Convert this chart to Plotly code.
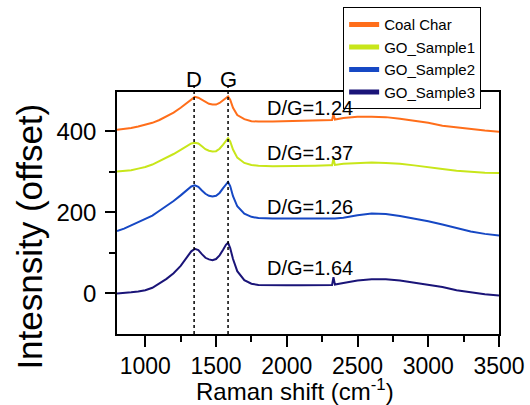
import plotly.graph_objects as go

raman_shift = [800, 850, 900, 950, 1000, 1050, 1100, 1150, 1200, 1250, 1300, 1325, 1350, 1375,
               1400, 1425, 1450, 1475, 1500, 1525, 1550, 1570, 1585, 1600, 1620, 1650, 1700,
               1750, 1800, 1900, 2000, 2100, 2200, 2300, 2320, 2330, 2340, 2400, 2500, 2600,
               2700, 2800, 2900, 3000, 3100, 3200, 3300, 3400, 3500]

coal_char = [404, 406, 408, 412, 416, 421, 428, 436, 446, 458, 472, 480, 485, 483,
             478, 472, 468, 466, 466, 470, 476, 482, 486, 478, 458, 440, 430,
             425, 424, 424, 425, 426, 427, 428, 428, 442, 429, 433, 436, 436,
             435, 431, 426, 421, 414, 410, 405, 402, 399]

go_sample1 = [301, 302, 304, 308, 312, 318, 326, 334, 344, 354, 365, 370, 372, 370,
              363, 356, 352, 350, 351, 357, 367, 378, 383, 375, 355, 335, 322,
              317, 315, 314, 314, 315, 315, 316, 316, 333, 317, 320, 322, 323,
              322, 320, 316, 311, 307, 303, 300, 298, 297]

go_sample2 = [154, 160, 168, 176, 183, 192, 204, 215, 228, 242, 257, 264, 267, 263,
              254, 246, 241, 239, 241, 248, 260, 270, 275, 265, 240, 215, 197,
              189, 186, 185, 185, 185, 185, 185, 185, 186, 185, 187, 193, 197,
              196, 191, 185, 178, 170, 161, 153, 147, 143]

go_sample3 = [0, 1, 3, 5, 8, 14, 24, 36, 50, 68, 92, 104, 110, 107,
              97, 88, 84, 82, 85, 94, 108, 120, 125, 112, 85, 55, 33,
              24, 21, 20, 20, 20, 20, 21, 21, 40, 22, 26, 32, 35,
              35, 32, 27, 22, 16, 8, 3, -2, -5]

series_names = ["Coal Char", "GO_Sample1", "GO_Sample2", "GO_Sample3"]
series_values = [coal_char, go_sample1, go_sample2, go_sample3]
series_colors = ["#FF6E1A", "#C8E61A", "#1648C4", "#1A1478"]

ratio_labels = ["D/G=1.24", "D/G=1.37", "D/G=1.26", "D/G=1.64"]
ratio_y = [457, 346, 213, 62]
ratio_x = 2163

peak_x = [1345, 1585]
peak_labels = ["D", "G"]

FONT = "Liberation Sans, Arial, sans-serif"

fig = go.Figure()
for name, vals, col in zip(series_names, series_values, series_colors):
    fig.add_trace(go.Scatter(x=raman_shift, y=vals, mode="lines", name=name,
                             line=dict(color=col, width=2), showlegend=False))
# legend-only entries with thick lines
for name, col in zip(series_names, series_colors):
    fig.add_trace(go.Scatter(x=[None], y=[None], mode="lines", name=name,
                             line=dict(color=col, width=5), showlegend=True))

for px, lab in zip(peak_x, peak_labels):
    fig.add_shape(type="line", xref="x", yref="paper", x0=px, x1=px, y0=0, y1=1.04,
                  line=dict(color="black", width=1.5, dash="dot"))
    fig.add_annotation(x=px, y=1.11, xref="x", yref="paper", text=lab, showarrow=False,
                       font=dict(family=FONT, size=22, color="black"))

for lab, yv in zip(ratio_labels, ratio_y):
    fig.add_annotation(x=ratio_x, y=yv, xref="x", yref="y", text=lab, showarrow=False,
                       font=dict(family=FONT, size=20, color="black"))

fig.add_annotation(x=-0.23, y=0.403, xref="paper", yref="paper", text="Intesnsity (offset)",
                   textangle=-90, showarrow=False, xanchor="center", yanchor="middle",
                   font=dict(family=FONT, size=35, color="black"))

fig.add_annotation(x=0.467, y=-0.232, xref="paper", yref="paper",
                   text="Raman shift (cm<sup>-1</sup>)", showarrow=False,
                   xanchor="center", yanchor="middle",
                   font=dict(family=FONT, size=24, color="black"))

fig.update_layout(
    width=530, height=405,
    margin=dict(l=117, r=31, t=92, b=71, autoexpand=False),
    paper_bgcolor="white", plot_bgcolor="white",
    font=dict(family=FONT, color="black"),
    legend=dict(x=0.592, y=1.35, xanchor="left", yanchor="top",
                bordercolor="black", borderwidth=1, bgcolor="white",
                font=dict(family=FONT, size=15, color="black"),
                tracegroupgap=0, itemwidth=30),
)
fig.update_xaxes(range=[800, 3500], tick0=1000, dtick=500, ticks="outside", ticklen=11,
                 tickwidth=1.5, tickcolor="black", showline=True, linecolor="black",
                 linewidth=1.5, mirror=True, showgrid=False, zeroline=False, automargin=False,
                 ticklabelstandoff=0,
                 tickfont=dict(family=FONT, size=23, color="black"),
                 minor=dict(ticks="outside", ticklen=6, tick0=750, dtick=250,
                            tickcolor="black", tickwidth=1.5, showgrid=False))
fig.update_yaxes(range=[-100, 497], tickvals=[0, 200, 400], ticks="outside", ticklen=10,
                 tickwidth=1.5, tickcolor="black", showline=True, linecolor="black",
                 linewidth=1.5, mirror=True, showgrid=False, zeroline=False, automargin=False,
                 ticklabelstandoff=4,
                 tickfont=dict(family=FONT, size=24, color="black"),
                 minor=dict(ticks="outside", ticklen=6, tickvals=[100, 300],
                            tickcolor="black", tickwidth=1.5, showgrid=False))

fig.write_html("out.html")
